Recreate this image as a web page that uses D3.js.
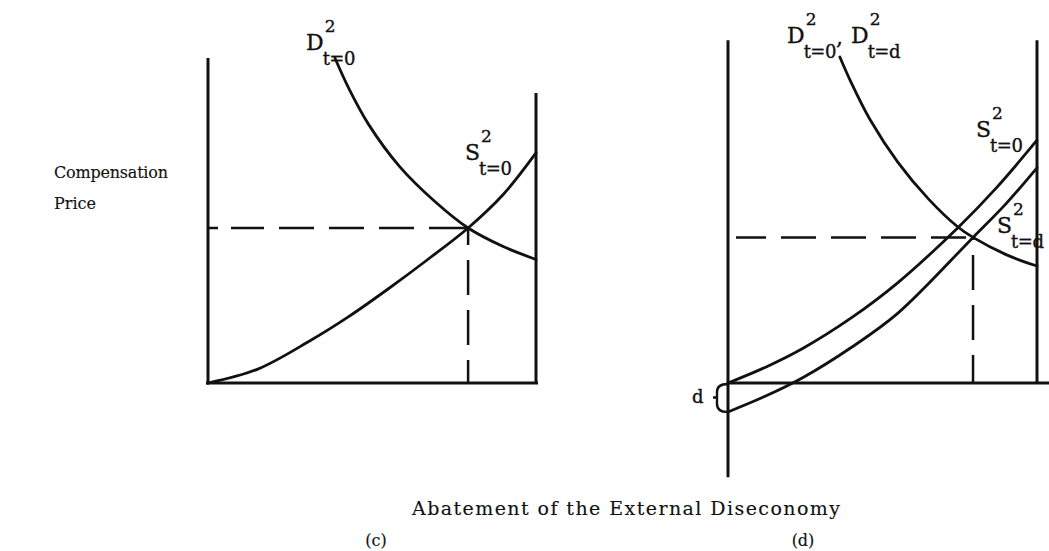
<!DOCTYPE html>
<html>
<head>
<meta charset="utf-8">
<script src="https://cdn.jsdelivr.net/npm/d3@7"></script>
<style>
  html, body { margin: 0; padding: 0; background: #fff; }
  svg { display: block; }
  text { font-family: "DejaVu Serif", "Liberation Serif", serif; fill: #111; }
  .sym { stroke: #111; stroke-width: 0.35; }
  .caption { stroke: #111; stroke-width: 0.15; }
</style>
</head>
<body>
<svg id="chart" width="1049" height="551"></svg>
<script>
// Panel (c): demand and supply of abatement at t = 0
const demandC_x = [3.87, 4.3, 4.9, 5.85, 6.9, 7.93, 9.0, 10];
const demandC_y = [10, 9.05, 7.95, 6.65, 5.6, 4.77, 4.2, 3.8];
const supplyC_x = [0, 1.5, 3.11, 4.3, 5.5, 6.7, 7.93, 9.0, 10];
const supplyC_y = [0, 0.42, 1.3, 2.05, 2.9, 3.8, 4.77, 5.8, 7.08];
const equilibriumC = [7.93, 4.77];

// Panel (d): demand unchanged, supply shifted down by d
const demandD_x = [3.62, 3.95, 4.6, 5.5, 6.5, 7.44, 7.93, 9.0, 10];
const demandD_y = [10.03, 9.32, 8.1, 6.79, 5.65, 4.8, 4.48, 3.95, 3.6];
const supplyD0_x = [0, 1.2, 2.43, 4.0, 5.5, 7.44, 8.7, 10];
const supplyD0_y = [0, 0.48, 1.07, 2.01, 3.09, 4.78, 6.02, 7.47];
const supplyDd_x = [0, 1.2, 2.43, 4.0, 5.5, 7.93, 9.0, 10];
const supplyDd_y = [-0.89, -0.41, 0.17, 1.1, 2.15, 4.48, 5.52, 6.62];
const equilibriumD = [7.93, 4.48];

// Axis extents (data units)
const axisC = { xMax: 10, yMax: 10, rightTop: 8.92 };
const axisD = { xMax: 10.39, yMin: -2.9, yMax: 10.55, rightTop: 10.55 };

const svg = d3.select("#chart");

const xC = d3.scaleLinear().domain([0, 10]).range([208, 536]);
const yC = d3.scaleLinear().domain([0, 10]).range([383, 58]);
const xD = d3.scaleLinear().domain([0, 10]).range([728, 1037]);
const yD = d3.scaleLinear().domain([0, 10]).range([383, 58]);

const zip = (xs, ys) => xs.map((x, i) => [x, ys[i]]);

function drawCurve(xs, ys, xs_, ys_) {
  const line = d3.line()
    .x(d => xs_(d[0]))
    .y(d => ys_(d[1]))
    .curve(d3.curveCatmullRom.alpha(0.5));
  svg.append("path")
    .attr("d", line(zip(xs, ys)))
    .attr("fill", "none")
    .attr("stroke", "#111")
    .attr("stroke-width", 2.8)
    .attr("stroke-linecap", "round");
}

function solid(x1, y1, x2, y2, w) {
  svg.append("line")
    .attr("x1", x1).attr("y1", y1).attr("x2", x2).attr("y2", y2)
    .attr("stroke", "#111").attr("stroke-width", w || 3);
}

function dashed(x1, y1, x2, y2, pattern) {
  svg.append("line")
    .attr("x1", x1).attr("y1", y1).attr("x2", x2).attr("y2", y2)
    .attr("stroke", "#111").attr("stroke-width", 2.5)
    .attr("stroke-dasharray", pattern);
}

// Symbol with superscript and subscript, e.g. D^2_{t=0}
function symbol(x, y, base, sup, sub) {
  const g = svg.append("g").attr("class", "sym");
  const b = g.append("text").attr("x", x).attr("y", y)
    .attr("font-size", 22).text(base);
  const w = b.node().getComputedTextLength();
  g.append("text").attr("x", x + w + 1).attr("y", y - 18)
    .attr("font-size", 17).text(sup);
  g.append("text").attr("x", x + w - 1).attr("y", y + 15)
    .attr("font-size", 18).attr("letter-spacing", -0.5).text(sub);
  return g;
}

// ---- Panel (c) ----
solid(xC(0), yC(axisC.yMax), xC(0), yC(0) + 1.5);
solid(xC(0) - 2, yC(0), xC(axisC.xMax) + 2, yC(0));
solid(xC(axisC.xMax), yC(axisC.rightTop), xC(axisC.xMax), yC(0));

dashed(xC(0), yC(equilibriumC[1]), xC(equilibriumC[0]), yC(equilibriumC[1]),
  "10,13,33,15,35,15,35,15,35,15,45");
dashed(xC(equilibriumC[0]), yC(0), xC(equilibriumC[0]), yC(equilibriumC[1]),
  "23,15,35,15,35,15,40");

drawCurve(demandC_x, demandC_y, xC, yC);
drawCurve(supplyC_x, supplyC_y, xC, yC);

symbol(306, 50, "D", "2", "t=0");
symbol(465, 160, "S", "2", "t=0");

// ---- Panel (d) ----
solid(xD(0), yD(axisD.yMax), xD(0), yD(axisD.yMin));
solid(xD(0), yD(0), xD(axisD.xMax), yD(0));
solid(xD(10), yD(axisD.rightTop), xD(10), yD(0));

dashed(xD(0), yD(equilibriumD[1]), xD(equilibriumD[0]), yD(equilibriumD[1]),
  "0,8,30,15,35,15,35,15,35,15,35,15,45");
dashed(xD(equilibriumD[0]), yD(0), xD(equilibriumD[0]), yD(equilibriumD[1]),
  "28,15,35,15,35,15,40");

drawCurve(demandD_x, demandD_y, xD, yD);
drawCurve(supplyD0_x, supplyD0_y, xD, yD);
drawCurve(supplyDd_x, supplyDd_y, xD, yD);

// Brace marking the downward shift d between the two supply curves
const bTop = yD(supplyD0_y[0]), bBot = yD(supplyDd_y[0]), bx = xD(0);
const bMid = (bTop + bBot) / 2;
svg.append("path")
  .attr("d", `M${bx},${bTop + 1} Q${bx - 11},${bTop + 1} ${bx - 11},${bTop + 9}
              L${bx - 11},${bBot - 8} Q${bx - 11},${bBot} ${bx},${bBot}
              M${bx - 11},${bMid} L${bx - 15},${bMid}`)
  .attr("fill", "none").attr("stroke", "#111").attr("stroke-width", 2.4);
svg.append("text").attr("class", "sym").attr("x", 692).attr("y", bMid + 6)
  .attr("font-size", 18).text("d");

symbol(787, 43, "D", "2", "t=0");
svg.append("text").attr("class", "sym").attr("x", 836).attr("y", 45)
  .attr("font-size", 22).text(",");
symbol(851, 43, "D", "2", "t=d");
symbol(976, 137, "S", "2", "t=0");
symbol(997, 233, "S", "2", "t=d");

// ---- Shared axis titles and panel captions ----
svg.append("text").attr("class", "caption").attr("x", 54).attr("y", 178)
  .attr("font-size", 16).attr("textLength", 114).attr("lengthAdjust", "spacing")
  .text("Compensation");
svg.append("text").attr("class", "caption").attr("x", 54).attr("y", 209)
  .attr("font-size", 16).text("Price");

svg.append("text").attr("class", "caption").attr("x", 412).attr("y", 515)
  .attr("font-size", 19).attr("textLength", 428).attr("lengthAdjust", "spacing")
  .text("Abatement of the External Diseconomy");

svg.append("text").attr("class", "caption").attr("x", 376).attr("y", 546).attr("text-anchor", "middle")
  .attr("font-size", 16).text("(c)");
svg.append("text").attr("class", "caption").attr("x", 803).attr("y", 546).attr("text-anchor", "middle")
  .attr("font-size", 16).text("(d)");
</script>
</body>
</html>
